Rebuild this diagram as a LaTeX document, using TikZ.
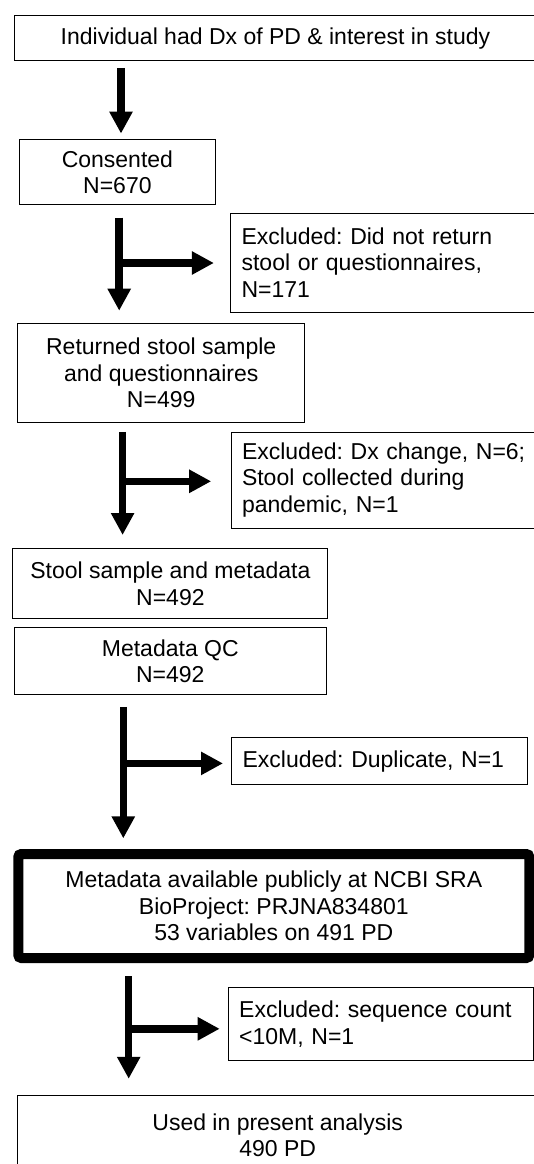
\documentclass[tikz,border=0pt]{standalone}
\usepackage{fontspec}
\setmainfont{Liberation Sans}
\usetikzlibrary{arrows.meta}
\frenchspacing
\tikzstyle{box}=[draw, line width=1pt, anchor=north west, inner sep=0pt, outer sep=0pt, align=center, font=\fontsize{23}{26.5}\selectfont]
\tikzstyle{exclbox}=[box, align=left]
\tikzstyle{flow}=[line width=7.5pt, -{Triangle[length=22pt,width=22pt]}]

\begin{document}
\begin{tikzpicture}[x=1pt, y=-1pt]
\useasboundingbox (0,0) rectangle (534,1164);
\clip (0,0) rectangle (534,1164);
% Main boxes
    \node[box, minimum width=523, minimum height=45] (interest) at (14,16) {Individual had Dx of PD \& interest in study};
    \node[box, minimum width=196, minimum height=65] (consent) at (19.4,139.6) {Consented\\N=670};
    \node[box, minimum width=287, minimum height=99] (returned) at (17.7,323.3) {Returned stool sample\\and questionnaires\\N=499};
    \node[box, minimum width=315, minimum height=70] (stool) at (12.9,548.8) {Stool sample and metadata\\N=492};
    \node[box, minimum width=312, minimum height=67] (qc) at (14.3,627.8) {Metadata QC\\N=492};
    \node[box, line width=10pt, rounded corners=3pt, minimum width=511, minimum height=104] (sra) at (18.3,854) {Metadata available publicly at NCBI SRA\\BioProject: PRJNA834801\\53 variables on 491 PD};
    \node[box, minimum width=520, minimum height=80] (used) at (17.7,1095.2) {Used in present analysis\\490 PD};
% Excluded boxes
    \node[exclbox, minimum width=310, minimum height=99, text width=288] (excl1) at (230.6,213) {Excluded: Did not return\\stool or questionnaires,\\N=171};
    \node[exclbox, minimum width=310, minimum height=96, text width=288] (excl2) at (231,432) {Excluded: Dx change, N=6;\\Stool collected during\\pandemic, N=1};
    \node[exclbox, minimum width=296, minimum height=47, text width=274] (dup) at (231.6,737.9) {Excluded: Duplicate, N=1};
    \node[exclbox, minimum width=305, minimum height=72.5, text width=283] (seq) at (228.2,987.9) {Excluded: sequence count\\<10M, N=1};
% Branch points
    \coordinate (s1) at (121,100);
    \coordinate (s2) at (119.2,263);
    \coordinate (s3) at (122.6,481.3);
    \coordinate (s4) at (123.3,763.4);
    \coordinate (s5) at (128.7,1028.8);
% Arrows
    \draw[flow, shorten <=7pt, shorten >=6pt] (interest.south -| s1) -- (consent.north -| s1);
    \draw[flow, shorten <=13pt, shorten >=12.6pt] (consent.south -| s2) -- (returned.north -| s2);
    \draw[flow, shorten >=16.7pt] (s2) -- (excl1.west |- s2);
    \draw[flow, shorten <=9.6pt, shorten >=13.8pt] (returned.south -| s3) -- (stool.north -| s3);
    \draw[flow, shorten >=19.8pt] (s3) -- (excl2.west |- s3);
    \draw[flow, shorten <=12pt, shorten >=15.6pt] (qc.south -| s4) -- (sra.north -| s4);
    \draw[flow, shorten >=8.6pt] (s4) -- (dup.west |- s4);
    \draw[flow, shorten <=18pt, shorten >=16.4pt] (sra.south -| s5) -- (used.north -| s5);
    \draw[flow, shorten >=8.5pt] (s5) -- (seq.west |- s5);
\end{tikzpicture}
\end{document}
